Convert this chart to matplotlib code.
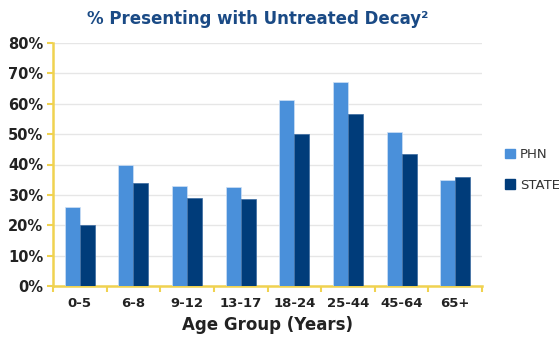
import matplotlib
matplotlib.use("Agg")
import matplotlib.pyplot as plt
import numpy as np
from matplotlib.patches import Patch

categories = ["0-5", "6-8", "9-12", "13-17", "18-24", "25-44", "45-64", "65+"]
phn = [26.0, 39.7, 32.9, 32.7, 61.3, 67.0, 50.8, 35.0]
state = [20.2, 34.0, 29.0, 28.7, 50.0, 56.7, 43.4, 35.8]
yticks = [0, 10, 20, 30, 40, 50, 60, 70, 80]

c_phn = "#4A90DA"
c_state = "#003C7A"
c_axis = "#F0D250"

fig = plt.figure(figsize=(5.59, 3.40), dpi=100)
ax = fig.add_axes([53/559, 1-286/340, (482-53)/559, (286-43)/340])

x = np.arange(len(categories))
w = 0.28
ax.bar(x - w/2, phn, w, color=c_phn, edgecolor="#CFE0F5", linewidth=0.5, zorder=3)
ax.bar(x + w/2, state, w, color=c_state, edgecolor="#3A6AA0", linewidth=0.5, zorder=3)

ax.set_xlim(-0.5, len(categories) - 0.5)
ax.set_ylim(0, 80)
ax.set_yticks(yticks)
ax.set_yticklabels([f"{v}%" for v in yticks], fontsize=10.5, fontweight="bold", color="#222222")
ax.set_xticks(x)
ax.set_xticklabels(categories, fontsize=9.5, fontweight="bold", color="#222222")
ax.set_xticks(np.arange(-0.5, len(categories)), minor=True)
ax.tick_params(axis="x", which="major", length=0, pad=8)
ax.tick_params(axis="x", which="minor", length=4, color=c_axis, width=1.5, direction="out")
ax.tick_params(axis="y", length=4, color=c_axis, width=1.5, direction="out", pad=3)

for s in ["top", "right"]:
    ax.spines[s].set_visible(False)
for s in ["left", "bottom"]:
    ax.spines[s].set_color(c_axis)
    ax.spines[s].set_linewidth(1.8)

ax.yaxis.grid(True, color="#E6E6E6", linewidth=1, zorder=0)
ax.set_axisbelow(True)

ax.set_xlabel("Age Group (Years)", fontsize=12, fontweight="bold", color="#222222", labelpad=4)
fig.text(258/559, 0.945, "% Presenting with Untreated Decay²", ha="center", va="center",
         fontsize=12, fontweight="bold", color="#1A4A85")

handles = [Patch(color=c_phn, label="PHN"), Patch(color=c_state, label="STATE")]
leg = fig.legend(handles=handles, loc="center left", bbox_to_anchor=(500/559, 1-170/340),
                 frameon=False, fontsize=9.5, handlelength=0.7, handleheight=0.7,
                 handletextpad=0.4, labelspacing=1.3, borderaxespad=0)
for t in leg.get_texts():
    t.set_color("#333333")

fig.savefig("out.png", dpi=100)
